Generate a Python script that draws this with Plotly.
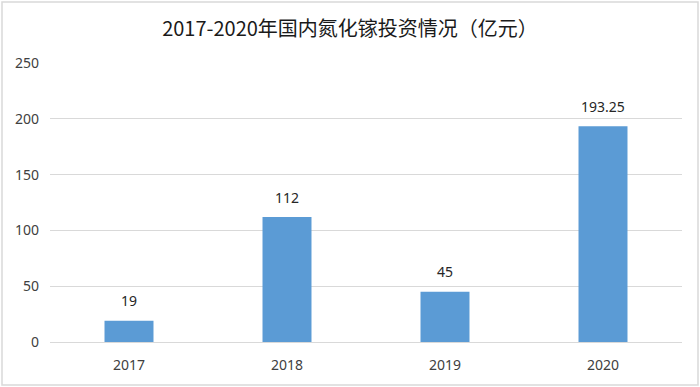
import plotly.graph_objects as go

years = ["2017", "2018", "2019", "2020"]
investment = [19, 112, 45, 193.25]
value_labels = ["19", "112", "45", "193.25"]
y_ticks = [0, 50, 100, 150, 200, 250]
title_text = "2017-2020年国内氮化镓投资情况（亿元）"

W, H = 700, 387
ml, mr, mt, mb = 50, 18, 63, 45
font_fam = "Noto Sans, Liberation Sans, sans-serif"

fig = go.Figure()
fig.add_trace(go.Bar(
    x=years, y=investment, width=0.31,
    marker=dict(color="#5b9bd5", line=dict(width=0)),
    hoverinfo="x+y",
))

for i, (v, lab) in enumerate(zip(investment, value_labels)):
    fig.add_annotation(x=i, y=v, text=lab, showarrow=False, yanchor="middle", yshift=20,
                       font=dict(size=14, color="#262626", family=font_fam))

fig.update_layout(
    width=W, height=H,
    margin=dict(l=ml, r=mr, t=mt, b=mb, autoexpand=False),
    paper_bgcolor="white", plot_bgcolor="white",
    showlegend=False,
    title=dict(text=title_text, x=0.5, xanchor="center", y=1 - 29 / H, yanchor="middle",
               font=dict(size=20, color="#1a1a1a", family="Noto Sans CJK SC, sans-serif")),
    xaxis=dict(type="category", range=[-0.5, len(years) - 0.5], showgrid=False, showline=True,
               linecolor="#d9d9d9", linewidth=1,
               tickfont=dict(size=14, color="#404040", family=font_fam),
               ticks="", ticklabelstandoff=10, automargin=False),
    yaxis=dict(range=[0, 250], tickvals=y_ticks, showgrid=True, gridcolor="#d9d9d9", gridwidth=1,
               zeroline=False, showline=False, ticks="", ticklabelstandoff=10, automargin=False,
               tickfont=dict(size=14, color="#404040", family=font_fam)),
)

fig.add_shape(type="rect", xref="paper", yref="paper",
              x0=-(ml - 2) / (W - ml - mr), x1=1 + (mr - 2) / (W - ml - mr),
              y0=-(mb - 2) / (H - mt - mb), y1=1 + (mt - 2) / (H - mt - mb),
              line=dict(color="#d9d9d9", width=1.5), layer="above")

fig.write_html("out.html", config={"displayModeBar": False},
               post_script="document.body.style.margin='0';document.body.style.overflow='hidden';")
